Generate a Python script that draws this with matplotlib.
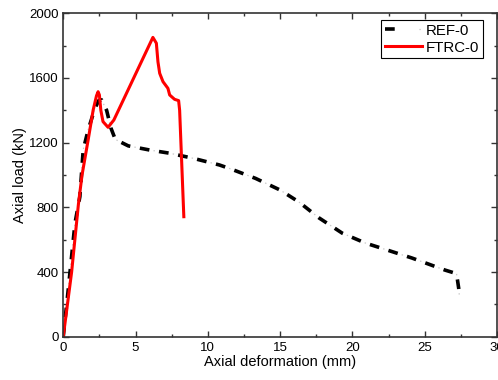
import numpy as np
import matplotlib
matplotlib.use("Agg")
import matplotlib.pyplot as plt
from matplotlib.ticker import MultipleLocator
from matplotlib.legend_handler import HandlerTuple

# valeurs
ref_x = [0, 0.34, 0.81, 1.15, 1.38, 1.72, 2.19, 2.45, 2.65, 3.0, 3.3, 3.6, 4.5, 6.0,
         7.4, 9.0, 10.8, 11.6, 13.3, 15.0, 16.3, 17.7, 19.3, 20.9, 22.4, 24.1, 26.4,
         27.2, 27.35, 27.4]
ref_y = [0, 287, 701, 866, 1155, 1278, 1412, 1460, 1465, 1400, 1290, 1220, 1180, 1154,
         1134, 1103, 1062, 1037, 979, 907, 833, 734, 640, 579, 536, 487, 412,
         390, 300, 250]

ftrc_x = [0, 0.58, 1.05, 1.3, 1.72, 2.07, 2.3, 2.41, 2.5, 2.6, 2.75, 3.1, 3.5,
          6.2, 6.44, 6.55, 6.67, 6.9, 7.24, 7.36, 7.7, 7.98, 8.05, 8.34]
ftrc_y = [0, 400, 820, 1000, 1216, 1402, 1490, 1515, 1495, 1400, 1330, 1295, 1340,
          1851, 1815, 1700, 1629, 1577, 1536, 1495, 1468, 1460, 1400, 742]

plt.rcParams['font.family'] = ['Liberation Sans', 'DejaVu Sans']
plt.rcParams['lines.scale_dashes'] = False

fig = plt.figure(figsize=(4.98, 3.8), dpi=100)
ax = fig.add_axes([0.127, 0.114, 0.871, 0.851])

# tirets noirs epais + petits points gris dans les trous (style Origin)
l1, = ax.plot(ref_x, ref_y, color='black', lw=2.6, linestyle=(0, (7, 7)), dash_capstyle='butt')
l2, = ax.plot(ref_x, ref_y, color='#c8c8c8', lw=0.9, linestyle=(4, (1, 13)), dash_capstyle='butt')
l3, = ax.plot(ftrc_x, ftrc_y, color='red', lw=2.2)

ax.set_xlim(0, 30)
ax.set_ylim(0, 2000)
ax.xaxis.set_major_locator(MultipleLocator(5))
ax.xaxis.set_minor_locator(MultipleLocator(2.5))
ax.yaxis.set_major_locator(MultipleLocator(400))
ax.yaxis.set_minor_locator(MultipleLocator(200))
ax.tick_params(which='both', direction='in', top=True, right=True, labelsize=9.5, width=1, colors='#333333', labelcolor='black')
ax.tick_params(which='major', length=4)
ax.tick_params(which='minor', length=2.5)
for s in ax.spines.values():
    s.set_linewidth(1.2)
    s.set_color('#333333')

ax.set_xlabel("Axial deformation (mm)", fontsize=10.5, labelpad=1)
ax.set_ylabel("Axial load (kN)", fontsize=10.5, labelpad=1)

leg = ax.legend([(l1, l2), l3], ["REF-0", "FTRC-0"], loc='upper right',
                handler_map={tuple: HandlerTuple(ndivide=None)},
                fontsize=10.8, fancybox=False, framealpha=1, edgecolor='black',
                borderpad=0.25, labelspacing=0.2, handlelength=2.5, handletextpad=0.25,
                bbox_to_anchor=(0.968, 0.98), borderaxespad=0)
leg.get_frame().set_linewidth(0.8)

fig.savefig("out.png", dpi=100)
